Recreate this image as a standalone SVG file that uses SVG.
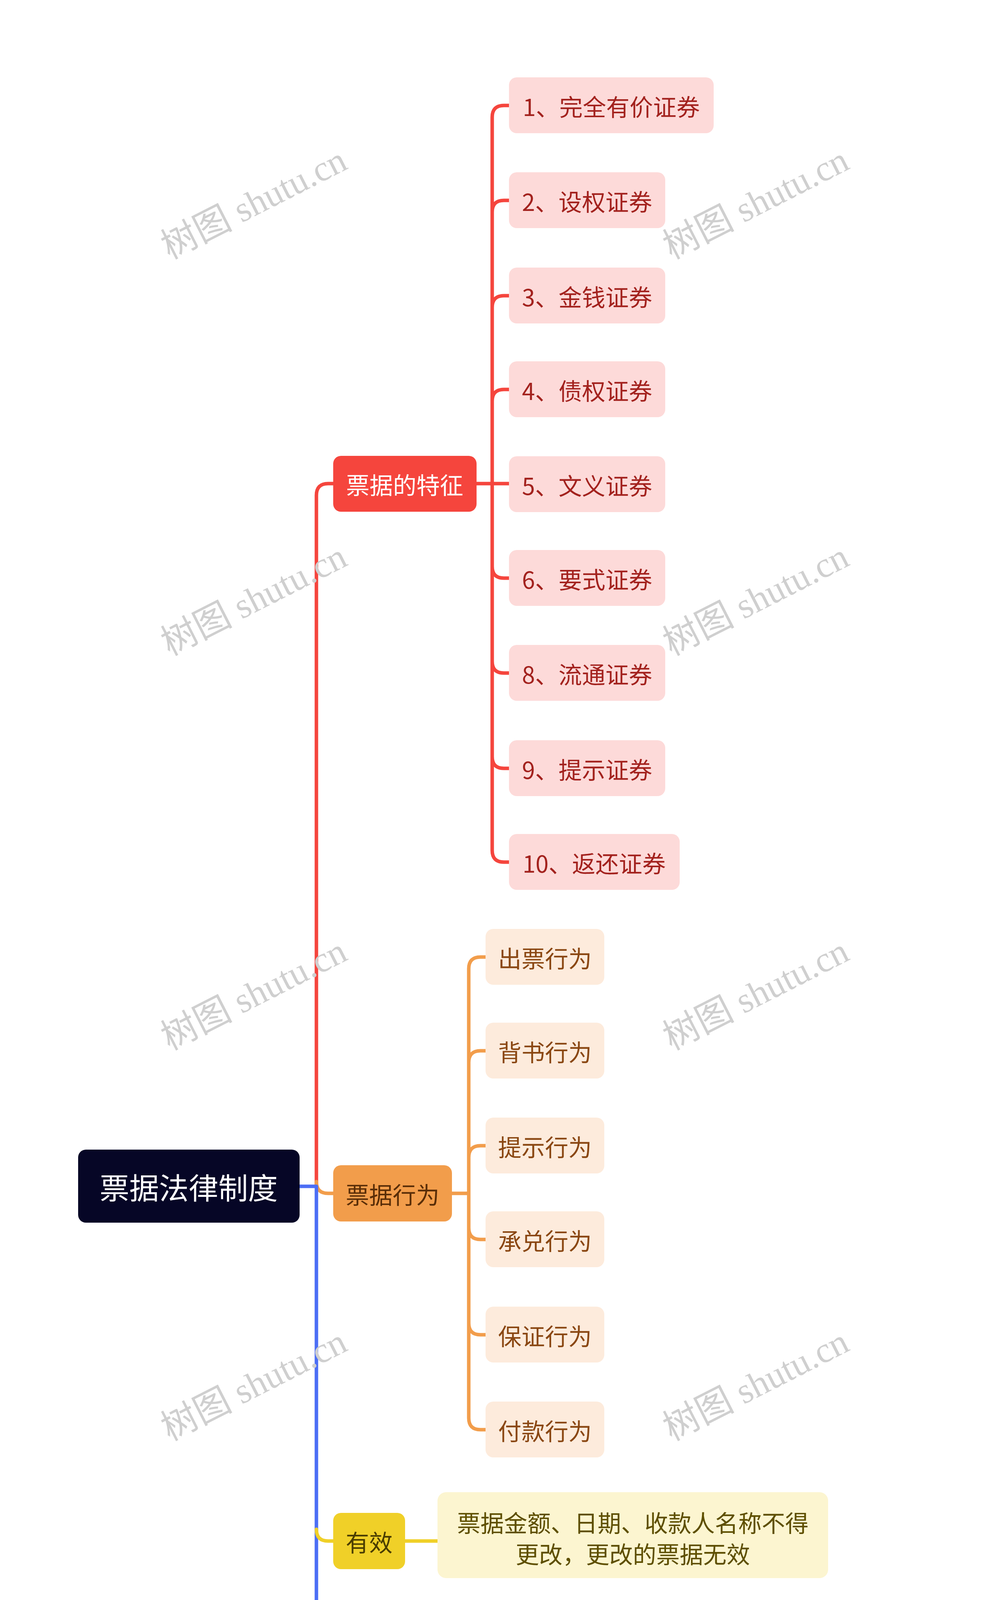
<svg xmlns="http://www.w3.org/2000/svg" width="2560" height="5207" viewBox="0 0 2560 5207">
<style>
text{font-family:"Noto Sans CJK SC","Liberation Sans",sans-serif;font-size:60px;text-anchor:middle;dominant-baseline:central}
text.big{font-size:76px}
text.wm{font-family:"Liberation Serif","Noto Sans CJK SC",serif;font-size:92px;fill:#cfcfcf;text-anchor:middle}
.c{fill:none;stroke-width:9;stroke-linecap:round;stroke-linejoin:round}
.r{stroke:#F5453D}.o{stroke:#F29D4B}.y{stroke:#F0D028}.g{stroke:#00BE7A}.b{stroke:#4C6EF5}
.rn{fill:#FDDAD9}.rt{fill:#A3221E}
.on{fill:#FDEBDC}.ot{fill:#8A4712}
.bn{fill:#DCE2FD}.bt{fill:#1B2B9E}
</style>
<rect width="2560" height="5207" fill="#fff"/>
<g id="connectors">
<path class="c r" d="M810,3037 V1268 Q810,1238 840,1238 H853"/>
<path class="c o" d="M810,3037 V3025 Q810,3055 840,3055 H853"/>
<path class="c b" d="M767,3037 H810 V4802 Q810,4832 840,4832 H853"/>
<path class="c y" d="M810,3915 Q810,3945 840,3945 H853"/>
<path class="c g" d="M810,4318 Q810,4348 840,4348 H853"/>
<path class="c r" d="M1220,1238 H1303 M1260,1238 V300 Q1260,270 1290,270 H1303 M1260,543 Q1260,513 1290,513 H1303 M1260,787 Q1260,757 1290,757 H1303 M1260,1027 Q1260,997 1290,997 H1303 M1260,1238 V2177 Q1260,2207 1290,2207 H1303 M1260,1450 Q1260,1480 1290,1480 H1303 M1260,1693 Q1260,1723 1290,1723 H1303 M1260,1937 Q1260,1967 1290,1967 H1303"/>
<path class="c o" d="M1157,3055 H1200 M1200,3055 V2480 Q1200,2450 1230,2450 H1243 M1200,2720 Q1200,2690 1230,2690 H1243 M1200,2963 Q1200,2933 1230,2933 H1243 M1200,3055 V3630 Q1200,3660 1230,3660 H1243 M1200,3143 Q1200,3173 1230,3173 H1243 M1200,3387 Q1200,3417 1230,3417 H1243"/>
<path class="c y" d="M1037,3945 H1120"/>
<path class="c g" d="M1277,4348 H1363"/>
<path class="c b" d="M1157,4832 H1200 M1200,4832 V4742 Q1200,4712 1230,4712 H1243 M1200,4832 V4925 Q1200,4955 1230,4955 H1243"/>
</g>
<g id="root"><rect x="200" y="2943" width="567" height="187" rx="20" fill="#060626"/><text class="big" x="483" y="3037" fill="#fff">票据法律制度</text></g>
<g id="n1"><rect x="853" y="1167" width="367" height="143" rx="20" fill="#F5453D"/><text x="1036" y="1238" fill="#fff">票据的特征</text></g>
<g id="n2"><rect x="853" y="2983" width="304" height="144" rx="20" fill="#F29D4B"/><text x="1005" y="3055" fill="#5a2e08">票据行为</text></g>
<g id="n3"><rect x="853" y="3873" width="184" height="144" rx="20" fill="#F0D028"/><text x="945" y="3945" fill="#4a3d00">有效</text></g>
<g id="n4"><rect x="853" y="4277" width="424" height="143" rx="20" fill="#00BE7A"/><text x="1065" y="4348" fill="#fff">票据行为代理</text></g>
<g id="n5"><rect x="853" y="4760" width="304" height="143" rx="20" fill="#4C6EF5"/><text x="1005" y="4832" fill="#fff">票据权利</text></g>
<g id="r1"><rect class="rn" x="1303" y="198" width="524" height="143" rx="20"/><text class="rt" x="1565" y="270">1、完全有价证券</text></g>
<g id="r2"><rect class="rn" x="1303" y="441" width="400" height="143" rx="20"/><text class="rt" x="1503" y="513">2、设权证券</text></g>
<g id="r3"><rect class="rn" x="1303" y="685" width="400" height="143" rx="20"/><text class="rt" x="1503" y="757">3、金钱证券</text></g>
<g id="r4"><rect class="rn" x="1303" y="925" width="400" height="143" rx="20"/><text class="rt" x="1503" y="997">4、债权证券</text></g>
<g id="r5"><rect class="rn" x="1303" y="1168" width="400" height="143" rx="20"/><text class="rt" x="1503" y="1240">5、文义证券</text></g>
<g id="r6"><rect class="rn" x="1303" y="1408" width="400" height="143" rx="20"/><text class="rt" x="1503" y="1480">6、要式证券</text></g>
<g id="r7"><rect class="rn" x="1303" y="1651" width="400" height="143" rx="20"/><text class="rt" x="1503" y="1723">8、流通证券</text></g>
<g id="r8"><rect class="rn" x="1303" y="1895" width="400" height="143" rx="20"/><text class="rt" x="1503" y="1967">9、提示证券</text></g>
<g id="r9"><rect class="rn" x="1303" y="2135" width="437" height="143" rx="20"/><text class="rt" x="1521" y="2207">10、返还证券</text></g>
<g id="o1"><rect class="on" x="1243" y="2378" width="304" height="143" rx="20"/><text class="ot" x="1395" y="2450">出票行为</text></g>
<g id="o2"><rect class="on" x="1243" y="2618" width="304" height="143" rx="20"/><text class="ot" x="1395" y="2690">背书行为</text></g>
<g id="o3"><rect class="on" x="1243" y="2861" width="304" height="143" rx="20"/><text class="ot" x="1395" y="2933">提示行为</text></g>
<g id="o4"><rect class="on" x="1243" y="3101" width="304" height="143" rx="20"/><text class="ot" x="1395" y="3173">承兑行为</text></g>
<g id="o5"><rect class="on" x="1243" y="3345" width="304" height="143" rx="20"/><text class="ot" x="1395" y="3417">保证行为</text></g>
<g id="o6"><rect class="on" x="1243" y="3588" width="304" height="143" rx="20"/><text class="ot" x="1395" y="3660">付款行为</text></g>
<g id="y1"><rect x="1120" y="3820" width="1000" height="220" rx="22" fill="#FCF5D0"/><text x="1620" y="3895" fill="#5e4f00">票据金额、日期、收款人名称不得</text><text x="1620" y="3975" fill="#5e4f00">更改，更改的票据无效</text></g>
<g id="g1"><rect x="1363" y="4142" width="1000" height="384" rx="22" fill="#CDF0E1"/>
<text x="1863" y="4213" fill="#0b3324">是指代理人在其代理权限范围内，</text>
<text x="1863" y="4294" fill="#0b3324">在票据上记载被代理人的名称及为</text>
<text x="1863" y="4374" fill="#0b3324">被代理人代理的意思，并在票据上</text>
<text x="1863" y="4452" fill="#0b3324">签章的行为。</text></g>
<g id="b1"><rect class="bn" x="1243" y="4640" width="364" height="143" rx="20"/><text class="bt" x="1425" y="4712">付款请求权</text></g>
<g id="b2"><rect class="bn" x="1243" y="4883" width="244" height="144" rx="20"/><text class="bt" x="1365" y="4955">追索权</text></g>
<g id="watermarks">
<text class="wm" transform="translate(650,520) rotate(-27)">树图 shutu.cn</text>
<text class="wm" transform="translate(1935,520) rotate(-27)">树图 shutu.cn</text>
<text class="wm" transform="translate(650,1535) rotate(-27)">树图 shutu.cn</text>
<text class="wm" transform="translate(1935,1535) rotate(-27)">树图 shutu.cn</text>
<text class="wm" transform="translate(650,2545) rotate(-27)">树图 shutu.cn</text>
<text class="wm" transform="translate(1935,2545) rotate(-27)">树图 shutu.cn</text>
<text class="wm" transform="translate(650,3545) rotate(-27)">树图 shutu.cn</text>
<text class="wm" transform="translate(1935,3545) rotate(-27)">树图 shutu.cn</text>
<text class="wm" transform="translate(650,4560) rotate(-27)">树图 shutu.cn</text>
<text class="wm" transform="translate(1935,4560) rotate(-27)">树图 shutu.cn</text>
</g>
</svg>
